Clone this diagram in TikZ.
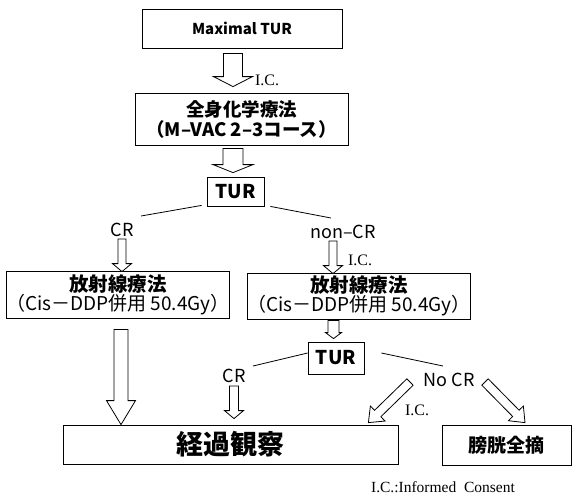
\documentclass[tikz,border=0pt]{standalone}
\usepackage{fontspec}
\setmainfont{Noto Sans CJK JP}
\newfontfamily\icfont{Liberation Serif}
\usetikzlibrary{calc}

% hollow block arrow: from, to, half shaft, half head, head length
\newcommand{\blockarrow}[5]{%
  \coordinate (ba-s) at (#1);
  \coordinate (ba-t) at (#2);
  \coordinate (ba-h) at ($(ba-t)!#5!(ba-s)$);
  \draw[hollow] ($(ba-s)!#3!90:(ba-t)$) -- ($(ba-h)!#3!90:(ba-t)$) -- ($(ba-h)!#4!90:(ba-t)$)
    -- (ba-t) -- ($(ba-h)!#4!-90:(ba-t)$) -- ($(ba-h)!#3!-90:(ba-t)$) -- ($(ba-s)!#3!-90:(ba-t)$) -- cycle;
}

\begin{document}
\begin{tikzpicture}[x=1pt, y=-1pt,
    box/.style={rectangle, draw, line width=0.8pt, inner sep=0pt, align=center, fill=white},
    lbl/.style={inner sep=0pt, font=\fontsize{18}{20}\selectfont},
    ic/.style={inner sep=0pt, font=\icfont\fontsize{16}{18}\selectfont},
    link/.style={line width=0.8pt},
    hollow/.style={draw, line width=0.8pt, fill=white, line join=miter}]
    \useasboundingbox (0,0) rectangle (572,496);

    \node[box, minimum width=200pt, minimum height=39pt, font=\bfseries\fontsize{15}{17}\selectfont] (MaxTUR) at (242,28.5) {Maximal TUR};
    \node[box, minimum width=213pt, minimum height=52pt, font=\bfseries\fontsize{18.5}{20}\selectfont] (Chemo) at (241.5,119) {全身化学療法\\（M–VAC 2–3コース）};
    \node[box, minimum width=57pt, minimum height=29pt, font=\bfseries\fontsize{19}{21}\selectfont] (TURa) at (235.5,191.5) {TUR};
    \node[lbl] (CRa) at (122,230) {CR};
    \node[lbl] (NonCR) at (343,232) {non–CR};
    \node[box, minimum width=212pt, minimum height=47pt] (RadL) at (118,294.5)
        {{\bfseries\fontsize{19.5}{20}\selectfont 放射線療法}\\{\fontsize{19}{20}\selectfont （Cis－DDP併用 50.4Gy）}};
    \node[box, minimum width=212pt, minimum height=46pt] (RadR) at (359,296)
        {{\bfseries\fontsize{19.5}{20}\selectfont 放射線療法}\\{\fontsize{19}{20}\selectfont （Cis－DDP併用 50.4Gy）}};
    \node[box, minimum width=56pt, minimum height=32pt, font=\bfseries\fontsize{19}{21}\selectfont] (TURb) at (336,358) {TUR};
    \node[lbl] (CRb) at (234,376) {CR};
    \node[lbl] (NoCR) at (449,380) {No CR};
    \node[box, minimum width=335pt, minimum height=39pt, font=\bfseries\fontsize{27}{29}\selectfont] (Obs) at (230.5,444.5) {経過観察};
    \node[box, minimum width=129pt, minimum height=40pt, font=\bfseries\fontsize{19}{21}\selectfont] (Cyst) at (506.5,445) {膀胱全摘};

    \node[ic] (ICa) at (267,80) {I.C.};
    \node[ic] (ICb) at (360,260) {I.C.};
    \node[ic] (ICc) at (417,410) {I.C.};
    \node[ic, font=\icfont\fontsize{15.5}{17}\selectfont] (Legend) at (443,487) {I.C.:Informed\ \ Consent};

    % branch lines
    \draw[link] ($(TURa.south west)+(-5,-1)$) -- ($(CRa.center)+(19,-14)$);
    \draw[link] ($(TURa.south east)+(6,0)$) -- ($(NonCR.center)+(-12,-14)$);
    \draw[link] ($(TURb.west)+(0,-5)$) -- ($(CRb.center)+(19,-10)$);
    \draw[link] ($(TURb.east)+(17,-5)$) -- ($(NoCR.center)+(-6,-14)$);

    % block arrows
    \blockarrow{$(MaxTUR.south)+(-9,5)$}{$(Chemo.north)+(-8.5,-6)$}{9.5pt}{19.5pt}{10pt}
    \blockarrow{$(Chemo.south)+(-8.5,3)$}{$(TURa.north)+(-2.5,-4)$}{10pt}{20pt}{8pt}
    \blockarrow{$(CRa.center)+(0,9)$}{$(RadL.north)+(4,1)$}{4pt}{9.5pt}{8pt}
    \blockarrow{$(NonCR.center)+(-10,9)$}{$(RadR.north)+(-26,1)$}{4pt}{9.5pt}{8pt}
    \blockarrow{$(RadR.south)+(-25.5,1)$}{$(TURb.north)+(-2.5,-3)$}{5.5pt}{8pt}{6pt}
    \blockarrow{$(RadL.south)+(3,11)$}{$(RadL.south |- Obs.north)+(3,0)$}{7pt}{14.5pt}{24pt}
    \blockarrow{$(CRb.center)+(0,10)$}{$(CRb.center |- Obs.north)+(0,-6)$}{4.5pt}{9.5pt}{8pt}
    \blockarrow{$(NoCR.center)+(-39,2)$}{$(Obs.north east)+(-30,-2)$}{4.5pt}{10.5pt}{13pt}
    \blockarrow{$(NoCR.center)+(36,2)$}{$(Cyst.north)+(18.5,-2)$}{4.5pt}{10.5pt}{13pt}
\end{tikzpicture}
\end{document}
